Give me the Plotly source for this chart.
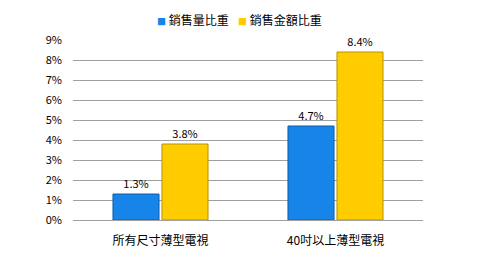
import plotly.graph_objects as go

categories = ["所有尺寸薄型電視", "40吋以上薄型電視"]
series_names = ["銷售量比重", "銷售金額比重"]
volume_share = [1.3, 4.7]
value_share = [3.8, 8.4]
tick_vals = [0, 1, 2, 3, 4, 5, 6, 7, 8, 9]
tick_text = [f"{v}%" for v in tick_vals]

font_family = "Noto Sans CJK TC, DejaVu Sans, sans-serif"
colors = ["#1784EA", "#FFCC00"]
borders = ["#0F5DA8", "#B89300"]

fig = go.Figure()
for name, vals, c, b in zip(series_names, [volume_share, value_share], colors, borders):
    fig.add_trace(go.Bar(
        x=categories, y=vals, name=name,
        marker=dict(color=c, line=dict(color=b, width=1)),
        text=[f"{v}%" for v in vals], textposition="outside",
        textfont=dict(size=11, color="#000000"), cliponaxis=False,
        showlegend=False,
    ))

# legend drawn as text annotations with small coloured squares
legend_x = [155, 236]
for name, c, lx in zip(series_names, colors, legend_x):
    fig.add_annotation(
        xref="paper", yref="paper",
        x=(lx - 73) / 350, y=1 + (40 - 20) / 180,
        xanchor="left", yanchor="middle", showarrow=False,
        text=f"<span style='color:{c};font-size:9px'>■</span> {name}",
        font=dict(size=12, color="#000000"),
    )

fig.update_layout(
    width=480, height=255,
    margin=dict(l=73, r=57, t=40, b=35, autoexpand=False),
    paper_bgcolor="white", plot_bgcolor="white",
    font=dict(family=font_family, size=11, color="#000000"),
    barmode="group", bargap=0.44, bargroupgap=0.06,
    showlegend=False,
    xaxis=dict(showgrid=False, showline=False, ticks="",
               tickfont=dict(size=12), ticklabelstandoff=12),
    yaxis=dict(range=[0, 9], tickvals=tick_vals, ticktext=tick_text,
               showgrid=True, gridcolor="#A0A0A0", gridwidth=1,
               zeroline=True, zerolinecolor="#A0A0A0", zerolinewidth=1,
               ticks="", ticklabelstandoff=10, tickfont=dict(size=11)),
)

fig.write_html("out.html")
